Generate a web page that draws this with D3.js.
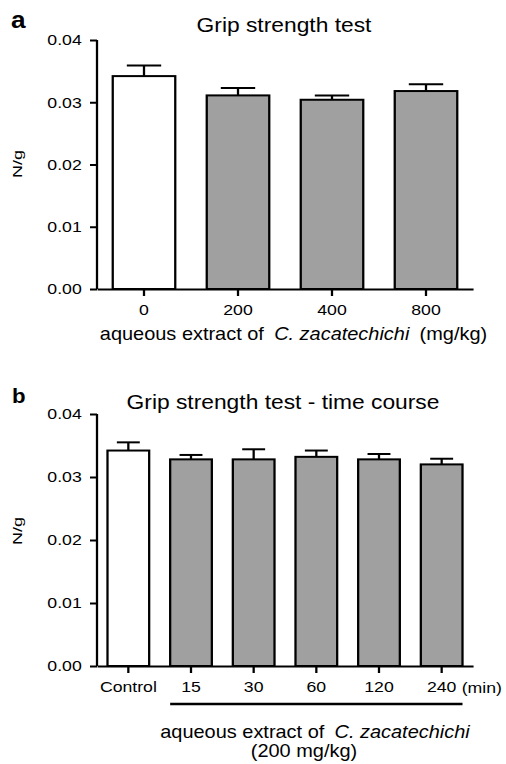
<!DOCTYPE html>
<html>
<head>
<meta charset="utf-8">
<script src="https://cdn.jsdelivr.net/npm/d3@7"></script>
<style>
  body { margin: 0; background: #fff; }
  svg { display: block; font-family: "Liberation Sans", Arial, sans-serif; }
</style>
</head>
<body>
<svg id="chart"></svg>
<script>
// panel a: dose response
var doseLabels = ['0', '200', '400', '800'];
var doseMeans = [0.0342, 0.0311, 0.0304, 0.0318];
var doseSem = [0.0017, 0.0012, 0.0007, 0.0011];

// panel b: time course at 200 mg/kg
var timeLabels = ['Control', '15', '30', '60', '120', '240'];
var timeMeans = [0.0342, 0.0328, 0.0328, 0.0332, 0.0328, 0.0320];
var timeSem = [0.0013, 0.0007, 0.0016, 0.0010, 0.00085, 0.0009];

var yTicks = [0, 0.01, 0.02, 0.03, 0.04];

// the original figure is stretched horizontally, so draw in a narrower box and stretch it
var SX = 1.14,
    width = 506,
    height = 764;

function px(v) { return v / SX; }

var svg = d3.select('#chart')
    .attr('width', width)
    .attr('height', height)
    .attr('viewBox', '0 0 ' + px(width) + ' ' + height)
    .attr('preserveAspectRatio', 'none');

function drawPanel(opts) {
  var g = svg.append('g');

  var x = d3.scaleBand()
      .domain(opts.labels)
      .range([px(97), px(473)])
      .paddingInner(0.335)
      .paddingOuter(0.1675);

  var y = d3.scaleLinear()
      .domain([0, 0.04])
      .range([opts.y0, opts.y1]);

  var data = opts.labels.map(function(l, i) {
    return { label: l, mean: opts.means[i], sem: opts.sem[i], i: i };
  });

  // error whiskers (upper only)
  var capW = x.bandwidth() * 0.55;
  var err = g.selectAll('g.err').data(data).enter()
    .append('g').attr('class', 'err');
  err.append('line')
      .attr('x1', function(d) { return x(d.label) + x.bandwidth() / 2; })
      .attr('x2', function(d) { return x(d.label) + x.bandwidth() / 2; })
      .attr('y1', function(d) { return y(d.mean); })
      .attr('y2', function(d) { return y(d.mean + d.sem); });
  err.append('line')
      .attr('x1', function(d) { return x(d.label) + x.bandwidth() / 2 - capW / 2; })
      .attr('x2', function(d) { return x(d.label) + x.bandwidth() / 2 + capW / 2; })
      .attr('y1', function(d) { return y(d.mean + d.sem); })
      .attr('y2', function(d) { return y(d.mean + d.sem); });
  err.selectAll('line')
      .attr('stroke', '#000')
      .attr('stroke-width', 2);

  g.selectAll('rect.bar').data(data).enter()
    .append('rect')
      .attr('class', 'bar')
      .attr('x', function(d) { return x(d.label); })
      .attr('y', function(d) { return y(d.mean); })
      .attr('width', x.bandwidth())
      .attr('height', function(d) { return y(0) - y(d.mean); })
      .attr('fill', function(d) { return d.i === 0 ? '#fff' : '#a0a0a0'; })
      .attr('stroke', '#000')
      .attr('stroke-width', 2);

  var yAxis = g.append('g')
      .attr('transform', 'translate(' + px(97) + ',0)')
      .call(d3.axisLeft(y).tickValues(yTicks).tickFormat(d3.format('.2f'))
        .tickSize(px(7)).tickSizeOuter(0).tickPadding(px(8.3)));

  var xAxis = g.append('g')
      .attr('transform', 'translate(0,' + opts.y0 + ')')
      .call(d3.axisBottom(x).tickSize(7).tickSizeOuter(0).tickPadding(8));

  [yAxis, xAxis].forEach(function(a) {
    a.selectAll('path, line').attr('stroke', '#000').attr('stroke-width', 2);
    a.selectAll('text').attr('font-size', 15.5).attr('fill', '#000')
      .attr('font-family', '"Liberation Sans", Arial, sans-serif');
  });
  yAxis.select('.domain').attr('d', 'M0,' + opts.y0 + 'V' + opts.y1);

  g.append('text')
      .attr('x', px(opts.titleX))
      .attr('y', opts.titleY)
      .attr('text-anchor', 'middle')
      .attr('font-size', 20)
      .text(opts.title);

  g.append('text')
      .attr('x', px(opts.letterX))
      .attr('y', opts.letterY)
      .attr('font-size', opts.letterSize)
      .attr('font-weight', 'bold')
      .text(opts.letter);

  g.append('text')
      .attr('transform', 'translate(' + px(21.5) + ',' + opts.unitY + ') rotate(-90) scale(1.7,1)')
      .attr('text-anchor', 'middle')
      .attr('font-size', 10.6)
      .text('N/g');

  return { g: g, x: x, y: y };
}

var a = drawPanel({
  labels: doseLabels, means: doseMeans, sem: doseSem,
  y0: 289, y1: 40,
  title: 'Grip strength test', titleX: 284, titleY: 32.5,
  letter: 'a', letterX: 11, letterY: 28, letterSize: 23,
  unitY: 164
});

var xt = a.g.append('text')
    .attr('x', px(293.5))
    .attr('y', 340)
    .attr('text-anchor', 'middle')
    .attr('font-size', 17.5);
xt.append('tspan').text('aqueous extract of');
xt.append('tspan').attr('dx', 9).attr('font-style', 'italic').text('C. zacatechichi');
xt.append('tspan').attr('dx', 9).text('(mg/kg)');

var b = drawPanel({
  labels: timeLabels, means: timeMeans, sem: timeSem,
  y0: 666, y1: 414,
  title: 'Grip strength test - time course', titleX: 283, titleY: 409,
  letter: 'b', letterX: 12, letterY: 403, letterSize: 19.5,
  unitY: 531
});

b.g.append('text')
    .attr('x', px(461.7))
    .attr('y', 693.3)
    .attr('font-size', 15.5)
    .text('(min)');

b.g.append('line')
    .attr('x1', b.x('15'))
    .attr('x2', b.x('240') + b.x.bandwidth())
    .attr('y1', 704)
    .attr('y2', 704)
    .attr('stroke', '#000')
    .attr('stroke-width', 2.5);

var bt = b.g.append('text')
    .attr('x', px(315))
    .attr('y', 738)
    .attr('text-anchor', 'middle')
    .attr('font-size', 17.5);
bt.append('tspan').text('aqueous extract of');
bt.append('tspan').attr('dx', 9).attr('font-style', 'italic').text('C. zacatechichi');

b.g.append('text')
    .attr('x', px(304))
    .attr('y', 757)
    .attr('text-anchor', 'middle')
    .attr('font-size', 17.5)
    .text('(200 mg/kg)');
</script>
</body>
</html>
